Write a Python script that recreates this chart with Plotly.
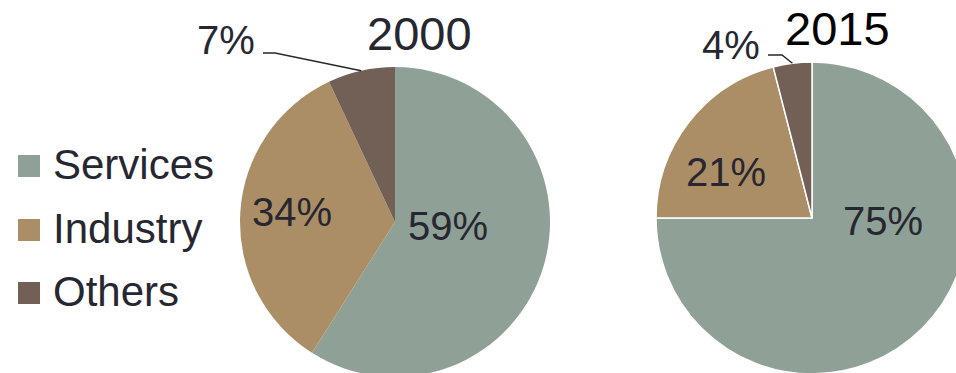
import math
import plotly.graph_objects as go

# ---------------- data ----------------
categories = ["Services", "Industry", "Others"]
years = ["2000", "2015"]
values_2000 = [59, 34, 7]
values_2015 = [75, 21, 4]
colors = ["#8FA096", "#AC8E66", "#726056"]

# ---------------- layout constants (pixels) ----------------
W, H = 970, 380          # slightly larger than the 956x373 window so the pies get clipped like the reference
FONT = "Liberation Sans, Arial, sans-serif"
TXT = "#272731"

pies = [
    dict(year=years[0], values=values_2000, cx=395, cy=222, r=155, line=0,
         title_xy=(419, 33), title_color=TXT,
         inside_xy=[(448, 226), (292, 212), None],
         outside_idx=2, outside_xy=(226, 40), leader=[(263, 53), (275, 53)]),
    dict(year=years[1], values=values_2015, cx=812, cy=218, r=156, line=1.5,
         title_xy=(837, 28), title_color="#000000",
         inside_xy=[(883, 221), (726, 172), None],
         outside_idx=2, outside_xy=(731, 45), leader=[(768, 55), (782, 55)]),
]


def px(x):
    return x / W


def py(y):
    return 1 - y / H


fig = go.Figure()
annotations = []
shapes = []

for p in pies:
    cx, cy, r = p["cx"], p["cy"], p["r"]
    fig.add_trace(go.Pie(
        labels=categories, values=p["values"], sort=False,
        direction="clockwise", rotation=0,
        marker=dict(colors=colors, line=dict(color="white", width=p["line"])),
        textinfo="none", showlegend=False,
        domain=dict(x=[px(cx - r), px(cx + r)], y=[py(cy + r), py(cy - r)]),
        name=p["year"],
    ))
    # title
    annotations.append(dict(text=p["year"], x=px(p["title_xy"][0]), y=py(p["title_xy"][1]),
                            xref="paper", yref="paper", showarrow=False,
                            xanchor="center", yanchor="middle",
                            font=dict(family=FONT, size=47, color=p["title_color"])))
    total = sum(p["values"])
    for i, v in enumerate(p["values"]):
        if p["inside_xy"][i] is not None:
            x, y = p["inside_xy"][i]
            annotations.append(dict(text=f"{v}%", x=px(x), y=py(y), xref="paper", yref="paper",
                                    showarrow=False, xanchor="center", yanchor="middle",
                                    font=dict(family=FONT, size=40, color=TXT)))
    # outside label with leader line to the slice's mid angle
    i = p["outside_idx"]
    v = p["values"][i]
    x, y = p["outside_xy"]
    annotations.append(dict(text=f"{v}%", x=px(x), y=py(y), xref="paper", yref="paper",
                            showarrow=False, xanchor="center", yanchor="middle",
                            font=dict(family=FONT, size=40, color=TXT)))
    before = sum(p["values"][:i])
    theta = 2 * math.pi * (before + v / 2) / total
    ex, ey = cx + r * math.sin(theta), cy - r * math.cos(theta)
    pts = p["leader"] + [(ex, ey)]
    path = "M " + " L ".join(f"{px(a)},{py(b)}" for a, b in pts)
    shapes.append(dict(type="path", path=path, xref="paper", yref="paper",
                       line=dict(color=TXT, width=1.5)))

# manual legend (large squares like the reference)
leg_x0, leg_sq, leg_text_x = 18, 22, 51
leg_rows = [166, 230, 293]
for name, col, yc in zip(categories, colors, leg_rows):
    shapes.append(dict(type="rect", xref="paper", yref="paper",
                       x0=px(leg_x0), x1=px(leg_x0 + leg_sq),
                       y0=py(yc + leg_sq / 2), y1=py(yc - leg_sq / 2),
                       fillcolor=col, line=dict(width=0)))
    annotations.append(dict(text=name, x=px(leg_text_x), y=py(yc - 2), xref="paper", yref="paper",
                            showarrow=False, xanchor="left", yanchor="middle",
                            font=dict(family=FONT, size=42, color=TXT)))

fig.update_layout(
    width=W, height=H, margin=dict(l=0, r=0, t=0, b=0),
    paper_bgcolor="white", plot_bgcolor="white",
    annotations=annotations, shapes=shapes, showlegend=False,
)

fig.write_html(
    "out.html",
    config={"displayModeBar": False},
    post_script="document.documentElement.style.overflow='hidden';document.body.style.overflow='hidden';document.body.style.margin='0';",
)
